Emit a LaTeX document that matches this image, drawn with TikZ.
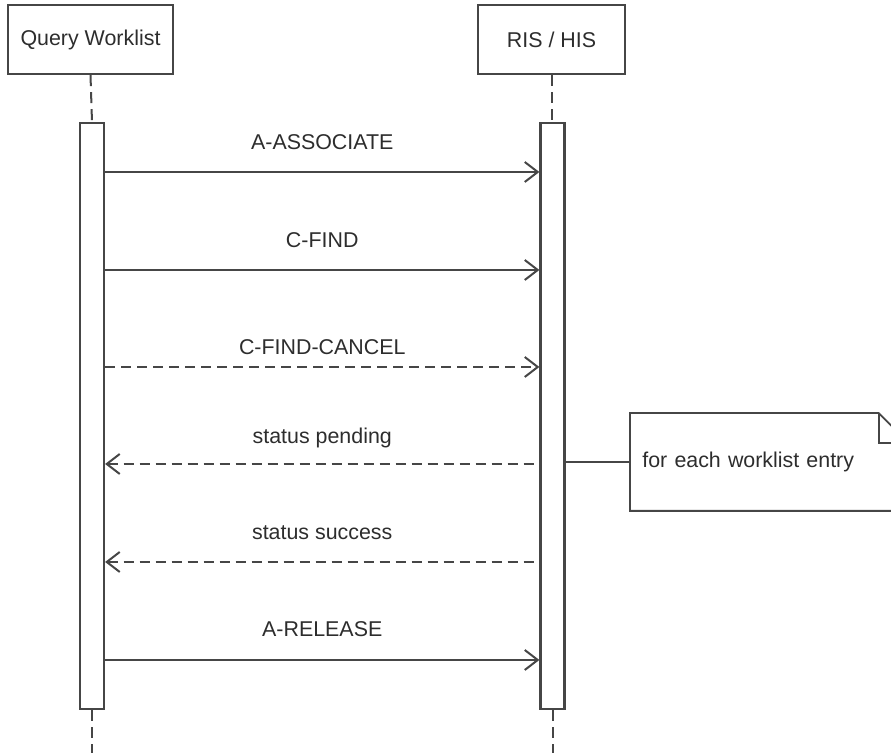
\documentclass[tikz,border=0pt]{standalone}
\usepackage{fontspec}
\setmainfont{Liberation Sans}
\usetikzlibrary{arrows.meta,positioning}
\definecolor{linegray}{RGB}{70,70,70}
\definecolor{textgray}{RGB}{45,45,45}
\tikzset{
  lifebox/.style={draw=linegray, line width=1.1pt, minimum height=34.5pt, inner sep=0pt,
    text=textgray, font=\fontsize{10.7}{12}\selectfont},
  actbar/.style={draw=linegray, line width=1.1pt, fill=white, minimum width=12pt,
    minimum height=293pt, inner sep=0pt},
  lifeline/.style={draw=linegray, line width=1pt, dash pattern=on 5.5pt off 3pt},
  call/.style={draw=linegray, line width=1pt, -{Straight Barb[length=6.5pt,width=10pt]}},
  reply/.style={draw=linegray, line width=1pt, dash pattern=on 5pt off 3pt,
    {Straight Barb[length=6.5pt,width=10pt]}-},
  cancel/.style={call, dash pattern=on 5pt off 3pt},
  msglabel/.style={text=textgray, font=\fontsize{10.7}{12}\selectfont, anchor=base, inner sep=0pt},
  notebox/.style={minimum height=48.5pt, text width=127pt, align=left, inner xsep=6pt,
    text=textgray, font=\fontsize{10.7}{12}\selectfont},
}
\begin{document}
\begin{tikzpicture}[x=0.5pt, y=-0.5pt]
    \useasboundingbox (0,0) rectangle (891,753);
    % lifelines
    \node[lifebox, minimum width=82.5pt] (query) at (90.5,39.5) {Query Worklist};
    \node[lifebox, minimum width=73.5pt] (ris) at (551.5,39.5) {RIS / HIS};
    \node[actbar] (qbar) at (92,416) {};
    \node[actbar] (rbar) at (552.5,416) {};
    \coordinate (qend) at (92,753);
    \coordinate (rend) at (552.5,753);
    \draw[lifeline] (query.south) -- (qbar.north);
    \draw[lifeline] (ris.south) -- (ris.south |- rbar.north);
    \draw[lifeline] (qbar.south) -- (qend);
    \draw[lifeline] (rbar.south) -- (rend);
    % messages
    \draw[call] (qbar.east |- 0,172) -- (rbar.west |- 0,172)
        node[msglabel, midway, yshift=11pt] {A-ASSOCIATE};
    \draw[call] (qbar.east |- 0,270) -- (rbar.west |- 0,270)
        node[msglabel, midway, yshift=11pt] {C-FIND};
    \draw[cancel] (qbar.east |- 0,367) -- (rbar.west |- 0,367)
        node[msglabel, midway, yshift=6pt] {C-FIND-CANCEL};
    \draw[reply] (qbar.east |- 0,464) -- (rbar.west |- 0,464)
        node[msglabel, midway, yshift=10pt] {status pending};
    \draw[reply] (qbar.east |- 0,562) -- (rbar.west |- 0,562)
        node[msglabel, midway, yshift=11pt] {status success};
    \draw[call] (qbar.east |- 0,660) -- (rbar.west |- 0,660)
        node[msglabel, midway, yshift=11.5pt] {A-RELEASE};
    % note
    \node[notebox, anchor=west] (note) at (630,462) {for each worklist entry};
    \draw[draw=linegray, line width=0.9pt] (note.south west) -- (note.north west)
        -- ([xshift=-15pt]note.north east) -- ([yshift=-15pt]note.north east)
        -- (note.south east) -- cycle;
    \draw[draw=linegray, line width=0.9pt] ([xshift=-15pt]note.north east)
        |- ([yshift=-15pt]note.north east);
    \draw[draw=linegray, line width=0.9pt] (rbar.east |- note.west) -- (note.west);
\end{tikzpicture}
\end{document}
